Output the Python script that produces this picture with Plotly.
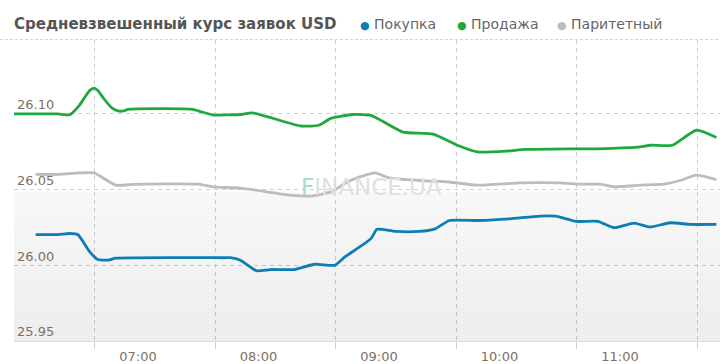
import plotly.graph_objects as go

DAY = "2013-01-01 "

# ---- data -------------------------------------------------------------
sell_times = ["05:58", "06:20", "06:26", "06:31", "06:34", "06:36", "06:38", "06:40",
              "06:43", "06:47", "06:50", "06:53", "06:55", "07:27", "07:37", "07:51",
              "07:57", "08:21", "08:30", "08:36", "08:47", "08:56", "09:02", "09:12",
              "09:27", "09:39", "09:49", "10:04", "10:13", "10:53", "11:10", "11:15",
              "11:26", "11:38", "11:48"]
sell_vals = [26.100, 26.100, 26.0995, 26.106, 26.112, 26.1155, 26.117, 26.1155,
             26.110, 26.104, 26.102, 26.102, 26.103, 26.103, 26.0994, 26.0996,
             26.1007, 26.092, 26.0925, 26.097, 26.0996, 26.099, 26.095, 26.088,
             26.0866, 26.0793, 26.0749, 26.0755, 26.0765, 26.0771, 26.0782, 26.0793,
             26.0793, 26.0892, 26.0844]

parity_times = ["06:09", "06:20", "06:31", "06:38", "06:49", "06:58", "07:31", "07:37",
                "07:51", "08:16", "08:26", "08:36", "08:46", "08:58", "09:05", "09:20",
                "09:35", "09:49", "10:10", "10:30", "10:40", "10:50", "10:57", "11:10",
                "11:22", "11:30", "11:38", "11:48"]
parity_vals = [26.060, 26.060, 26.061, 26.061, 26.0529, 26.0535, 26.0535, 26.0518,
               26.0510, 26.0463, 26.0457, 26.0485, 26.0562, 26.061, 26.0577, 26.056,
               26.055, 26.0529, 26.0544, 26.0544, 26.0536, 26.0536, 26.0518, 26.0529,
               26.0536, 26.056, 26.0595, 26.0566]

buy_times = ["06:09", "06:20", "06:26", "06:30", "06:36", "06:40", "06:45", "06:49",
             "07:43", "07:46", "07:51", "07:59", "08:06", "08:18", "08:28", "08:38",
             "08:43", "08:56", "08:59", "09:08", "09:20", "09:28", "09:35", "09:50",
             "10:05", "10:20", "10:28", "10:38", "10:49", "10:57", "11:07", "11:15",
             "11:25", "11:35", "11:48"]
buy_vals = [26.0203, 26.0203, 26.021, 26.0203, 26.0089, 26.0038, 26.0034, 26.0047,
            26.0050, 26.0050, 26.0033, 25.9964, 25.9972, 25.9972, 26.0007, 26.0000,
            26.0055, 26.0176, 26.0238, 26.0224, 26.0224, 26.0241, 26.0296, 26.0296,
            26.0307, 26.0325, 26.0325, 26.0290, 26.0290, 26.0248, 26.0279, 26.0253,
            26.0281, 26.0270, 26.0270]

series_names = ["Покупка", "Продажа", "Паритетный"]
series_colors = ["#0e7db3", "#1fa83c", "#bcbcbc"]
title_text = "Средневзвешенный курс заявок USD"
watermark = "FINANCE.UA"

x_range = [DAY + "05:58:15", DAY + "11:49:48"]
y_range = [25.95, 26.1488]
y_ticks = [25.95, 26.00, 26.05, 26.10]
x_tickvals = [DAY + h for h in ["06:00", "07:00", "08:00", "09:00", "10:00", "11:00"]]
grid_start = DAY + "06:38:30"

# ---- figure -----------------------------------------------------------
fig = go.Figure()

# soft background gradient in the lower half of the plot area
fig.add_trace(go.Scatter(
    x=[x_range[0], x_range[1], x_range[1], x_range[0], x_range[0]],
    y=[y_range[0], y_range[0], y_range[1], y_range[1], y_range[0]],
    mode="lines", line=dict(width=0), fill="toself",
    fillgradient=dict(type="vertical", start=y_range[0], stop=26.05,
                      colorscale=[[0, "rgba(0,0,0,0.07)"], [0.98, "rgba(0,0,0,0.03)"],
                                  [1, "rgba(0,0,0,0)"]]),
    hoverinfo="skip", showlegend=False))

def add_series(times, vals, name, color):
    fig.add_trace(go.Scatter(
        x=[DAY + t for t in times], y=vals, name=name, mode="lines",
        line=dict(color=color, width=2.8, shape="spline", smoothing=0.5),
        showlegend=False))

add_series(sell_times, sell_vals, series_names[1], series_colors[1])
add_series(parity_times, parity_vals, series_names[2], series_colors[2])
add_series(buy_times, buy_vals, series_names[0], series_colors[0])

tick_font = dict(family="DejaVu Sans", size=13, color="#7d7064")
grid_col = "#cfcfcf"

fig.update_xaxes(
    type="date", range=x_range, tickformat="%H:%M",
    tickmode="array", tickvals=x_tickvals, showgrid=False, ticks="",
    tickfont=tick_font, ticklabelstandoff=3, ticklabeloverflow="allow",
    showline=True, linecolor="#dcdcdc", linewidth=1, zeroline=False,
    minor=dict(tick0=grid_start, dtick=3600000, showgrid=True,
               gridcolor=grid_col, griddash="4px,4px", gridwidth=1,
               ticks="outside", ticklen=7, tickcolor=grid_col),
)
fig.update_yaxes(
    range=y_range, tickvals=y_ticks, tickformat=".2f",
    ticklabelposition="inside top", tickfont=tick_font,
    showgrid=True, gridcolor=grid_col, griddash="4px,4px", gridwidth=1,
    zeroline=False, showline=False, ticks="",
)

# header: title + legend entries
fig.add_annotation(text="<b>" + title_text + "</b>", xref="paper", yref="paper",
                   x=-2 / 706, y=1 + 16 / 301, xanchor="left", yanchor="middle",
                   showarrow=False, font=dict(family="DejaVu Sans", size=15, color="#555555"))
legend_x = [358, 455, 555]
for name, col, px in zip(series_names, series_colors, legend_x):
    fig.add_annotation(
        text="<span style='color:%s;font-size:11px'>●</span> %s" % (col, name),
        xref="paper", yref="paper", x=(px - 14) / 706, y=1 + 16 / 301,
        xanchor="left", yanchor="middle", showarrow=False,
        font=dict(family="DejaVu Sans", size=14, color="#666666"))

# watermark
fig.add_annotation(
    text="<span style='color:#a6dcd2'>F</span>INANCE.UA", xref="paper", yref="paper",
    x=(372 - 14) / 706, y=(341 - 187) / 301, xanchor="center", yanchor="middle",
    showarrow=False, font=dict(family="DejaVu Sans", size=23, color="#e0e0e0"))

# dotted separator under the header
fig.add_shape(type="line", xref="paper", yref="paper", x0=-14 / 706, x1=1,
              y0=1 + 0.5 / 301, y1=1 + 0.5 / 301,
              line=dict(color="#d6d6d6", width=1, dash="3px,2px"))
# crop of the first time label at the left page edge
fig.add_shape(type="rect", xref="paper", yref="paper", x0=-14 / 706, x1=0,
              y0=-23 / 301, y1=0, line=dict(width=0), fillcolor="white", layer="above")

fig.update_layout(
    width=720, height=364, margin=dict(l=14, r=0, t=40, b=23),
    paper_bgcolor="white", plot_bgcolor="white", showlegend=False,
)

fig.write_html("out.html", config={"displayModeBar": False},
               post_script="document.body.style.margin='0';")
